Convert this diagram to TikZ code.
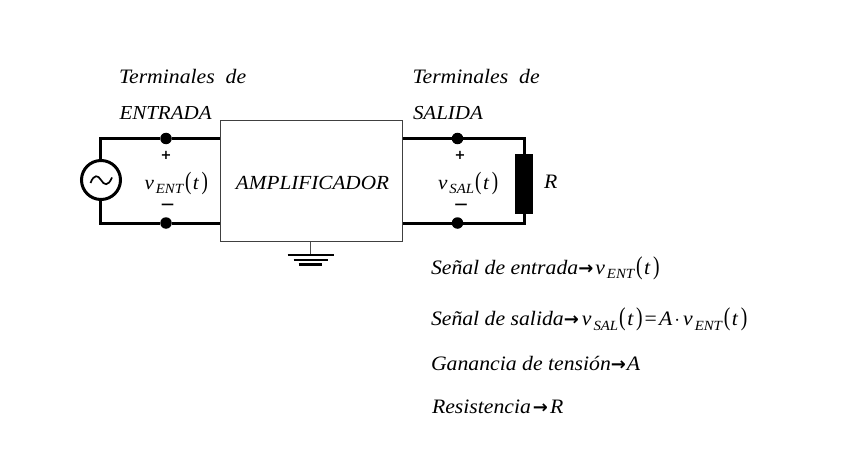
\documentclass[tikz,border=0pt]{standalone}
\usepackage{fontspec}
\setmainfont[FakeStretch=1.06]{Liberation Serif}
\newfontfamily\arrowfont{DejaVu Sans}
\newcommand{\sig}[2]{\textit{#1}\kern2pt\raisebox{-4.5pt}{\fontsize{14}{14}\selectfont\textit{#2}}}
\newcommand{\argt}{\kern1pt\scalebox{0.9}[1.25]{(}\kern1.5pt\textit{t}\kern2.5pt\scalebox{0.9}[1.25]{)}}
\newcommand{\arr}{{\arrowfont\bfseries\fontsize{18}{18}\selectfont →}}
\begin{document}
\begin{tikzpicture}[x=1pt,y=-1pt,
  wire/.style={line width=3pt,line cap=butt,line join=miter},
  thin wire/.style={line width=1.4pt,draw=black!70},
  lab/.style={inner sep=0pt,outer sep=0pt,anchor=base west,font=\fontsize{20.5}{20}\selectfont\itshape},
  labcap/.style={lab,font=\fontsize{19.8}{20}\selectfont\itshape},
  eq/.style={inner sep=0pt,outer sep=0pt,anchor=base west,font=\fontsize{20.5}{20}\selectfont},
  sym/.style={inner sep=0pt,outer sep=0pt,font=\fontsize{20}{20}\selectfont},
  term/.style={circle,fill=black,inner sep=0pt,minimum size=11.5pt},
  sign/.style={inner sep=0pt,font=\arrowfont\bfseries\fontsize{13}{13}\selectfont}]
\useasboundingbox (0,0) rectangle (848,476);
% amplifier
\node[draw=black!75,line width=1.4pt,minimum width=182pt,minimum height=120.5pt,inner sep=0pt] (amp) at (311.5,181) {};
\node[inner sep=0pt,anchor=base,font=\fontsize{20}{20}\selectfont\itshape] (ampl) at (312.5,189.5) {AMPLIFICADOR};
% terminals
\node[term] (t1) at (166,138.5) {};
\node[term] (t2) at (166,223) {};
\node[term] (t3) at (457.5,138.5) {};
\node[term] (t4) at (457.5,223) {};
% source
\node[circle,draw,line width=3pt,minimum size=39pt,inner sep=0pt] (src) at (101,180) {};
\draw[line width=1.7pt] (90.5,183) .. controls (94,174) and (98,175) .. (101,180) .. controls (104,185) and (108,187) .. (112,177.5);
% resistor
\node[draw=none,fill=black,minimum width=18pt,minimum height=60pt,inner sep=0pt] (res) at (523.5,184) {};
% corner coordinates
\coordinate (c1) at (100,138.5);
\coordinate (c2) at (100,223);
\coordinate (c3) at (524,138.5);
\coordinate (c4) at (524,223);
\coordinate (gnd) at (310.5,255);
% wires
\draw[wire] (src.north -| c1) -- (c1) -- (t1) -- (t1 -| amp.west);
\draw[wire] (src.south -| c2) -- (c2) -- (t2) -- (t2 -| amp.west);
\draw[wire] (t3 -| amp.east) -- (t3) -- (c3) -- (res.north -| c3);
\draw[wire] (t4 -| amp.east) -- (t4) -- (c4) -- (res.south -| c4);
% ground
\draw[thin wire] (amp.south -| gnd) -- (gnd);
\draw[line width=2.6pt] (287.5,255) -- (334,255);
\draw[line width=2.4pt] (293.5,260) -- (328,260);
\draw[line width=2.4pt] (298.5,264.5) -- (322,264.5);
% signs
\node[sign] (p1) at (166,155) {+};
\node[sign] (p2) at (460,155) {+};
\node[sign] (m1) at (167.5,206.5) {—};
\node[sign] (m2) at (461,206.5) {—};
% labels
\node[lab] (a1) at (119,84) {Terminales\ \ de};
\node[labcap] (a2) at (119.5,120) {ENTRADA};
\node[lab] (b1) at (412.5,84) {Terminales\ \ de};
\node[labcap] (b2) at (413,120) {SALIDA};
\node[sym,anchor=base west] (v1) at (144.5,189) {\sig{v}{ENT}\argt};
\node[sym,anchor=base west] (v2) at (438,189) {\sig{v}{SAL}\argt};
\node[sym,anchor=base west,font=\fontsize{20.5}{20}\selectfont\itshape] (r) at (544,188) {R};
% equations
\node[eq] (e1) at (431,274) {\textit{Señal de entrada}\arr\kern2pt\sig{v}{ENT}\argt};
\node[eq] (e2) at (431,325.5) {\textit{Señal de salida}\arr\kern3pt\sig{v}{SAL}\argt\kern2pt=\kern2pt\textit{A}\kern2pt$\cdot$\kern3pt\sig{v}{ENT}\argt};
\node[eq] (e3) at (431,370.5) {\textit{Ganancia de tensión}\arr\kern1pt\textit{A}};
\node[eq] (e4) at (432,413) {\textit{Resistencia}\kern2pt\arr\kern2pt\textit{R}};
\end{tikzpicture}
\end{document}
